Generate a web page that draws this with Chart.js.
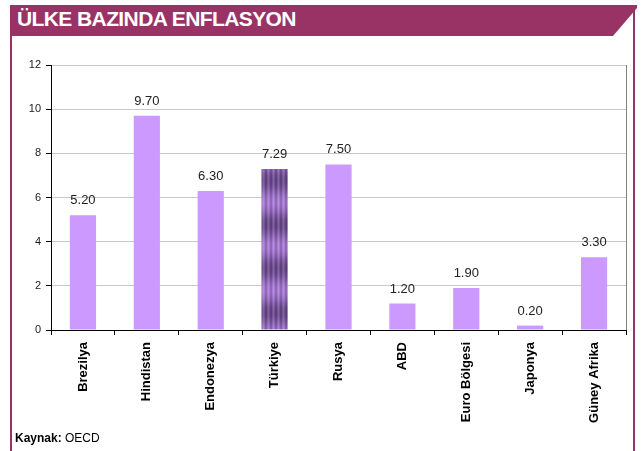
<!DOCTYPE html>
<html><head><meta charset="utf-8">
<script src="https://cdn.jsdelivr.net/npm/chart.js@4/dist/chart.umd.min.js"></script>
<style>
html,body{margin:0;padding:0;background:#fff;}
body{width:641px;height:451px;position:relative;overflow:hidden;font-family:"Liberation Sans",Arial,sans-serif;}
#frame{position:absolute;left:10px;top:5px;width:625px;height:460px;border:2px solid #993366;box-sizing:border-box;}
#header{position:absolute;left:10px;top:5px;width:627px;height:31px;background:#993366;clip-path:polygon(0 0,100% 0,100% 10%,calc(100% - 24px) 100%,0 100%);}
#title{position:absolute;left:17px;top:7px;color:#fff;font:bold 21px "Liberation Sans",Arial,sans-serif;letter-spacing:-0.6px;}
#src{position:absolute;left:15px;top:431px;font:12px "Liberation Sans Narrow","Liberation Sans",Arial,sans-serif;color:#000;}
#c{position:absolute;left:0;top:0;}
</style></head>
<body>
<div id="frame"></div>
<div id="header"></div>
<div id="title">ÜLKE BAZINDA ENFLASYON</div>
<canvas id="c" width="641" height="451"></canvas>
<div id="src"><b>Kaynak:</b> OECD</div>
<script>
const categories = ["Brezilya","Hindistan","Endonezya","Türkiye","Rusya","ABD","Euro Bölgesi","Japonya","Güney Afrika"];
const inflation = [5.20, 9.70, 6.30, 7.29, 7.50, 1.20, 1.90, 0.20, 3.30];
const yTicks = [0, 2, 4, 6, 8, 10, 12];

function makePattern(){
  const w=5,h=44;
  const pc=document.createElement('canvas');pc.width=w;pc.height=h;
  const ctx=pc.getContext('2d');
  const img=ctx.createImageData(w,h);
  const light=[200,150,250], dark=[92,64,120];
  for(let y=0;y<h;y++){
    const band=0.5+0.5*Math.cos(2*Math.PI*(y-4)/h);
    for(let x=0;x<w;x++){
      const stripe=0.5+0.5*Math.cos(2*Math.PI*(x-3)/w);
      let t=Math.min(1,0.15+0.5*band+0.4*(1-stripe));
      const i=(y*w+x)*4;
      for(let k=0;k<3;k++) img.data[i+k]=Math.round(light[k]*(1-t)+dark[k]*t);
      img.data[i+3]=255;
    }
  }
  ctx.putImageData(img,0,0);
  return document.getElementById('c').getContext('2d').createPattern(pc,'repeat');
}
const pattern=makePattern();
const colors=categories.map(c=>c==="Türkiye"?pattern:"#CC99FF");

const labelPlugin={
  id:'vals',
  afterDatasetsDraw(chart){
    const ctx=chart.ctx;
    const meta=chart.getDatasetMeta(0);
    ctx.save();
    ctx.font='13px "Liberation Sans", Arial, sans-serif';
    ctx.fillStyle='#222';
    ctx.textAlign='center';
    ctx.textBaseline='bottom';
    meta.data.forEach((el,i)=>{
      ctx.fillText(inflation[i].toFixed(2),el.x,el.y-8);
    });
    const a=chart.chartArea;
    ctx.strokeStyle='#808080';ctx.lineWidth=1;
    ctx.beginPath();ctx.moveTo(Math.round(a.right)+0.5,a.top);ctx.lineTo(Math.round(a.right)+0.5,a.bottom);ctx.stroke();
    ctx.restore();
  }
};

new Chart(document.getElementById('c'),{
  type:'bar',
  data:{labels:categories,datasets:[{data:inflation,backgroundColor:colors,barPercentage:0.82,categoryPercentage:0.5}]},
  plugins:[labelPlugin],
  options:{
    responsive:false,animation:false,
    layout:{padding:{top:65,right:15,left:0,bottom:0}},
    plugins:{legend:{display:false},tooltip:{enabled:false}},
    scales:{
      x:{
        offset:true,
        grid:{offset:true,drawOnChartArea:false,drawTicks:true,tickLength:5,color:'#000'},
        border:{color:'#000',width:1},
        ticks:{minRotation:90,maxRotation:90,autoSkip:false,padding:7,color:'#000',font:{family:'"Liberation Sans", Arial, sans-serif',size:13,weight:'bold'}},
        afterFit(s){s.height=121;}
      },
      y:{
        min:0,max:12,
        afterBuildTicks(s){s.ticks=yTicks.map(v=>({value:v}));},
        grid:{color:'#C8C8C8',tickColor:'#000',tickLength:5},
        border:{color:'#000',width:1},
        ticks:{padding:5,color:'#222',font:{family:'"Liberation Sans", Arial, sans-serif',size:11}},
        afterFit(s){s.width=51;}
      }
    }
  }
});
</script>
</body></html>
